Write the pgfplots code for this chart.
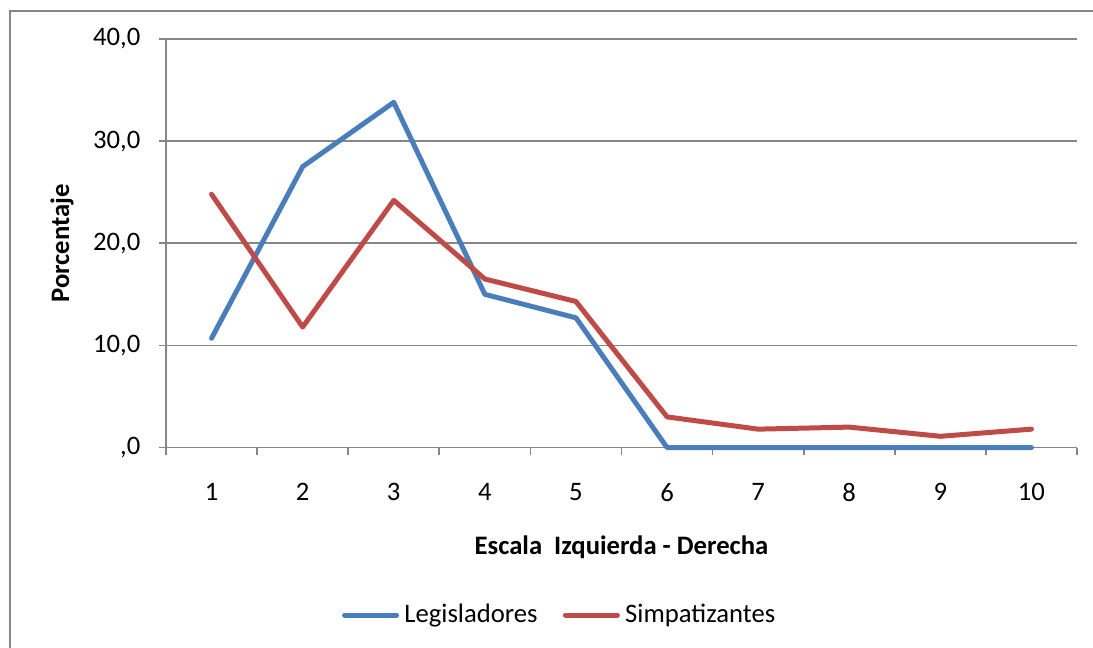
\documentclass[border=0pt]{standalone}
\usepackage{fontspec}
\setmainfont{Carlito}
\usepackage{pgfplots}
\pgfplotsset{compat=1.18}
\definecolor{lblue}{HTML}{4A7EBB}
\definecolor{lred}{HTML}{BE4B48}
\definecolor{gridgray}{HTML}{868686}
\begin{document}
\fontsize{20}{24}\selectfont
\begin{tikzpicture}[font=\fontsize{20}{24}\selectfont]
\useasboundingbox (0,0) rectangle (819.75pt,485.25pt);
\draw[gridgray, line width=1.2pt] (7.5pt,-2pt) -- (7.5pt,477pt) -- (822pt,477pt);
\begin{axis}[
  at={(124.5pt,149.6pt)}, anchor=south west,
  scale only axis, width=683.25pt, height=306.4pt,
  xmin=0.5, xmax=10.5, ymin=0, ymax=40,
  clip=false,
  axis lines=left,
  axis line style={-, gridgray, line width=1.25pt},
  tick align=outside,
  xtick={1,2,3,4,5,6,7,8,9,10},
  xticklabels={1,2,3,4,5,6,7,8,9,10},
  major x tick style={draw=none},
  minor xtick={0.5,1.5,2.5,3.5,4.5,5.5,6.5,7.5,8.5,9.5,10.5},
  minor x tick style={gridgray, line width=1.25pt},
  minor tick length=5.5pt,
  ytick={0,10,20,30,40},
  yticklabels={{,0},{10,0},{20,0},{30,0},{40,0}},
  y tick style={gridgray, line width=1.25pt},
  major tick length=5.5pt,
  ymajorgrids,
  major grid style={gridgray, line width=1.25pt},
  tick label style={font=\fontsize{20}{24}\selectfont},
  label style={font=\fontsize{20}{24}\selectfont\bfseries},
  yticklabel style={anchor=east, inner sep=0pt, xshift=-13.5pt},
  xticklabel style={anchor=north, inner sep=0pt, yshift=-21.4pt},
  xlabel={Escala\ \ Izquierda - Derecha},
  xlabel style={at={(0.5,-0.2436)}, anchor=center},
  ylabel={Porcentaje},
  ylabel style={at={(-0.1142,0.5)}, anchor=center},
  legend columns=2,
  legend style={at={(0.4325,-0.41)}, anchor=center, draw=none, fill=none,
    font=\fontsize{20}{24}\selectfont,
    /tikz/every even column/.append style={column sep=17pt}},
  legend image code/.code={\draw[#1] (0pt,0pt) -- (39pt,0pt); \path (41pt,0pt);},
  every axis plot/.append style={line width=3.75pt, line join=round, line cap=round},
]
\addplot[lblue] coordinates {(1,10.7) (2,27.5) (3,33.8) (4,15.0) (5,12.7) (6,0) (7,0) (8,0) (9,0) (10,0)};
\addlegendentry{Legisladores}
\addplot[lred] coordinates {(1,24.8) (2,11.8) (3,24.2) (4,16.5) (5,14.3) (6,3.0) (7,1.8) (8,2.0) (9,1.1) (10,1.8)};
\addlegendentry{Simpatizantes}
\end{axis}
\end{tikzpicture}
\end{document}
